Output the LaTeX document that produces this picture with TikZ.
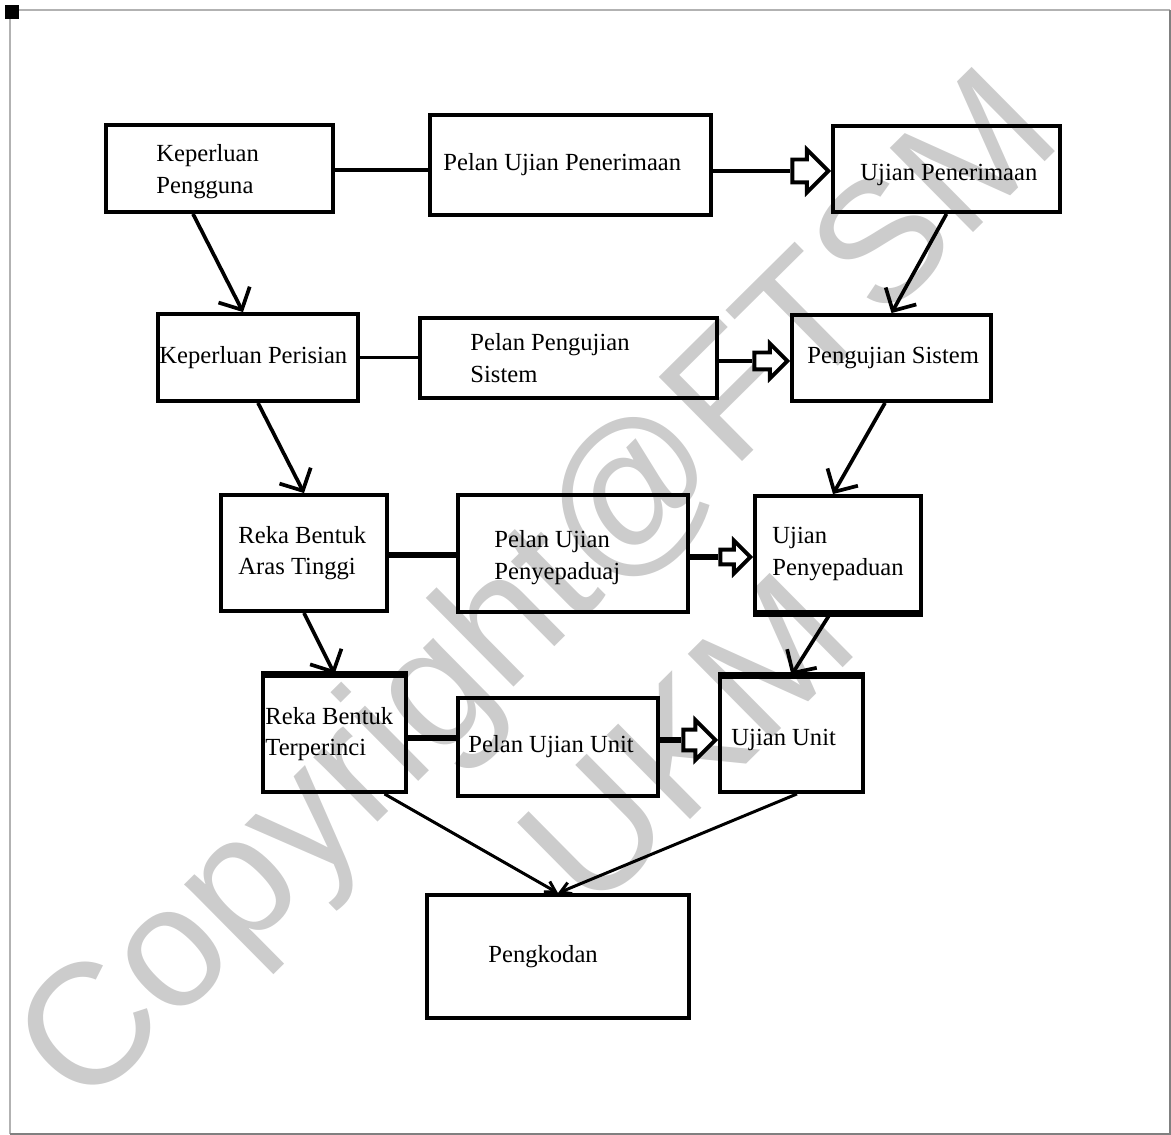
\documentclass[tikz,border=0pt]{standalone}
\usepackage{fontspec}
\setmainfont{Liberation Serif}
\newfontfamily\wmfont{Liberation Sans}
\usetikzlibrary{positioning,arrows.meta,shapes.arrows}
\tikzset{
  stagebox/.style={draw, line width=2.2pt, inner sep=0pt},
  stagetext/.style={inner sep=0pt, align=left, font=\fontsize{14}{18}\selectfont},
  heavyedge/.style={line width=3.8pt},
  planlink/.style={line width=2.2pt},
  planlinkb/.style={line width=3.6pt},
  blockarr/.style={single arrow, draw, fill=white, line width=2.2pt, inner xsep=0pt,
    anchor=tip, single arrow tip angle=90},
  flowarr/.style={-{Straight Barb[length=3.4mm, width=7mm]}, line width=2.1pt},
  endarr/.style={-{Straight Barb[length=2mm, width=2.4mm]}, line width=1.7pt},
  wmark/.style={font=\wmfont\fontsize{98}{124}\selectfont, text=black!20, align=center, inner sep=0pt},
}

\begin{document}
\begin{tikzpicture}[x=0.02cm, y=-0.02cm]
  \useasboundingbox (0,0) rectangle (1171,1135);
  % watermark behind the diagram
  \node[wmark, rotate=44.7] (wm) at (608,661) {Copyright@FTSM\\UKM};
  % page frame
  \draw[black!30, line width=1.2pt] (10,1134) -- (10,10) -- (1170,10);
  \draw[black!50, line width=1.6pt] (1170,10) -- (1170,1134) -- (10,1134);
  \fill (5,5) rectangle (19,19);

  % left column
  \node[stagebox, minimum width=4.54cm, minimum height=1.74cm] (kp) at (219.5,168.5) {};
  \node[stagetext, right=1.04cm of kp.west, yshift=-0.06cm] (kpt) {Keperluan\\Pengguna};
  \node[stagebox, minimum width=4cm, minimum height=1.74cm] (kpr) at (258,357.5) {};
  \node[stagetext, right=0.06cm of kpr.west] (kprt) {Keperluan Perisian};
  \node[stagebox, minimum width=3.32cm, minimum height=2.32cm] (rbat) at (304,553) {};
  \node[stagetext, right=0.38cm of rbat.west] (rbatt) {Reka Bentuk\\Aras Tinggi};
  \node[stagebox, minimum width=2.86cm, minimum height=2.32cm] (rbt) at (334.5,734) {};
  \node[stagetext, right=0.08cm of rbt.west] (rbtt) {Reka Bentuk\\Terperinci};

  % middle column
  \node[stagebox, minimum width=5.62cm, minimum height=2cm] (pua) at (570.5,165) {};
  \node[stagetext, right=0.3cm of pua.west] (puat) {Pelan Ujian Penerimaan};
  \node[stagebox, minimum width=5.94cm, minimum height=1.6cm] (pps) at (568.5,358) {};
  \node[stagetext, right=1.04cm of pps.west] (ppst) {Pelan Pengujian\\Sistem};
  \node[stagebox, minimum width=4.6cm, minimum height=2.34cm] (pupj) at (573,553.5) {};
  \node[stagetext, right=0.76cm of pupj.west, yshift=-0.08cm] (pupjt) {Pelan Ujian\\Penyepaduaj};
  \node[stagebox, minimum width=4cm, minimum height=1.96cm] (puu) at (558,747) {};
  \node[stagetext, right=0.24cm of puu.west] (puut) {Pelan Ujian Unit};

  % right column
  \node[stagebox, minimum width=4.54cm, minimum height=1.72cm] (up) at (946.5,169) {};
  \node[stagetext, right=0.58cm of up.west, yshift=-0.12cm] (upt) {Ujian Penerimaan};
  \node[stagebox, minimum width=3.98cm, minimum height=1.72cm] (ps) at (891.5,358) {};
  \node[stagetext, right=0.34cm of ps.west] (pst) {Pengujian Sistem};
  \node[stagebox, minimum width=3.32cm, minimum height=2.32cm] (upd) at (838,554) {};
  \node[stagetext, right=0.38cm of upd.west] (updt) {Ujian\\Penyepaduan};
  \node[stagebox, minimum width=2.86cm, minimum height=2.3cm] (uu) at (791.5,734.5) {};
  \node[stagetext, right=0.26cm of uu.west, yshift=-0.1cm] (uut) {Ujian Unit};

  % bottom
  \node[stagebox, minimum width=5.24cm, minimum height=2.46cm] (pk) at (558,956.5) {};
  \node[stagetext, right=1.26cm of pk.west] (pkt) {Pengkodan};

  % heavier edges
  \draw[heavyedge] (rbt.north west) -- (rbt.north east);
  \draw[heavyedge] (uu.north west) -- (uu.north east);
  \draw[heavyedge] (upd.south west) -- (upd.south east);

  % hollow arrows into the test boxes
  \node[blockarr, minimum height=0.72cm, inner ysep=0.19cm, single arrow head extend=0.2cm, yshift=-0.04cm] (a1) at (up.west) {};
  \node[blockarr, minimum height=0.66cm, inner ysep=0.13cm, single arrow head extend=0.18cm, yshift=-0.06cm] (a2) at (ps.west) {};
  \node[blockarr, minimum height=0.6cm, inner ysep=0.11cm, single arrow head extend=0.18cm, yshift=-0.06cm] (a3) at (upd.west) {};
  \node[blockarr, minimum height=0.64cm, inner ysep=0.17cm, single arrow head extend=0.19cm, yshift=-0.11cm] (a4) at (uu.west) {};

  % links across each level
  \draw[planlink] (kp.east |- 0,170) -- (pua.west |- 0,170);
  \draw[planlink] (pua.east |- a1.tail) -- (a1.tail);
  \draw[planlink] (kpr.east) -- (kpr.east -| pps.west);
  \draw[planlink] (pps.east |- a2.tail) -- (a2.tail);
  \draw[planlinkb] (rbat.east |- 0,555) -- (pupj.west |- 0,555);
  \draw[planlinkb] (pupj.east |- a3.tail) -- (a3.tail);
  \draw[planlinkb] (rbt.east |- 0,738) -- (puu.west |- 0,738);
  \draw[planlinkb] (puu.east |- a4.tail) -- (a4.tail);

  % down the V
  \draw[flowarr] ([xshift=-0.53cm]kp.south) -- ([xshift=-0.3cm]kpr.north);
  \foreach \a/\b in {up/ps, kpr/rbat, rbat/rbt}
    \draw[flowarr] (\a.south) -- (\b.north);
  \draw[flowarr] ([xshift=-0.13cm]ps.south) -- ([xshift=-0.1cm]upd.north);
  \draw[flowarr] ([xshift=-0.16cm]upd.south) -- (uu.north);
  \draw[endarr] ([xshift=1cm]rbt.south) -- (pk.north);
  \draw[endarr] ([xshift=0.11cm]uu.south) -- (pk.north);
\end{tikzpicture}
\end{document}
